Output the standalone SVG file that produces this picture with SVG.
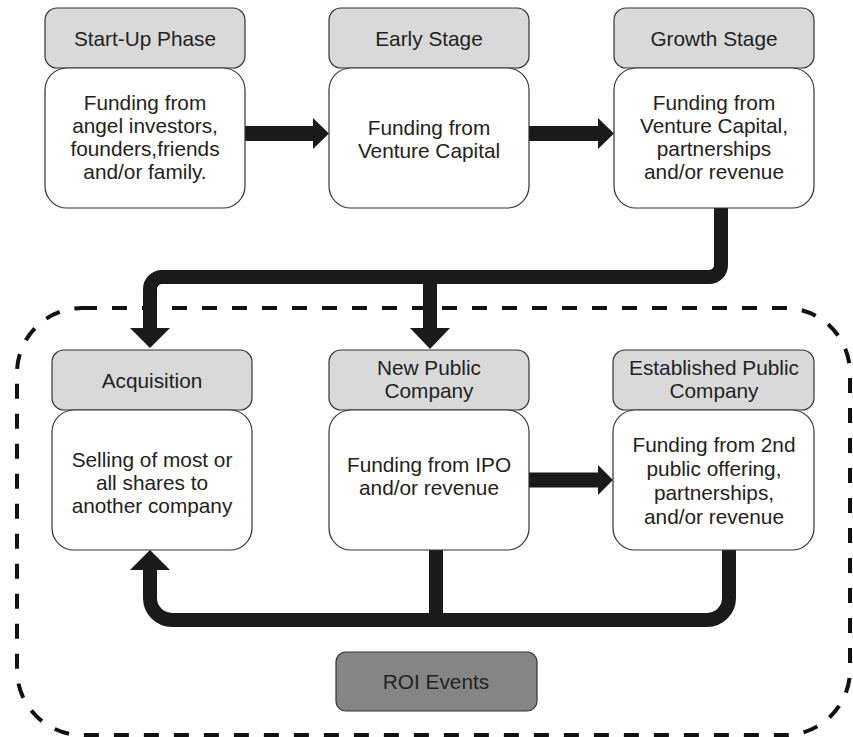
<svg xmlns="http://www.w3.org/2000/svg" width="853" height="737" viewBox="0 0 853 737">
<style>
text{font-family:"Liberation Sans",Arial,sans-serif;font-size:20.8px;fill:#222;text-anchor:middle}
.hd{fill:#d9d9d9;stroke:#333;stroke-width:1.2}
.bd{fill:#fff;stroke:#333;stroke-width:1.2}
.roi{fill:#858585;stroke:#333;stroke-width:1.2}
.ln{fill:none;stroke:#1a1a1a;stroke-width:14}
.hl{fill:none;stroke:#1a1a1a;stroke-width:15}
.ah{fill:#1a1a1a}
.dash{fill:none;stroke:#111;stroke-width:4;stroke-dasharray:15 15}
</style>
<rect class="dash" x="17" y="308" width="833" height="427" rx="65" ry="65"/>
<g id="connectors">
<path class="hl" d="M245 133.5H315"/><polygon class="ah" points="313,118 329,133.5 313,149"/>
<path class="hl" d="M529 133.5H600"/><polygon class="ah" points="598,118 614,133.5 598,149"/>
<path class="ln" d="M721 208V265a12 12 0 0 1 -12 12H162a12 12 0 0 0 -12 12V330"/>
<polygon class="ah" points="130,328 170,328 150,348"/>
<path class="ln" d="M430 277V330"/>
<polygon class="ah" points="410,328 450,328 430,349"/>
<path class="hl" d="M529 480H600"/><polygon class="ah" points="598,465 613,480 598,495"/>
<path class="ln" d="M729 550V598a22 22 0 0 1 -22 22H172a22 22 0 0 1 -22 -22V568"/>
<polygon class="ah" points="130,570 170,570 150,550"/>
<path class="ln" d="M436 550V620"/>
</g>
<g id="startup">
<rect class="hd" x="45" y="8" width="200" height="60" rx="12"/>
<text x="145" y="46">Start-Up Phase</text>
<rect class="bd" x="45" y="68" width="200" height="140" rx="22"/>
<text x="145" y="110">Funding from</text>
<text x="145" y="133">angel investors,</text>
<text x="145" y="156">founders,friends</text>
<text x="145" y="179">and/or family.</text>
</g>
<g id="early">
<rect class="hd" x="329" y="8" width="200" height="60" rx="12"/>
<text x="429" y="46">Early Stage</text>
<rect class="bd" x="329" y="68" width="200" height="140" rx="22"/>
<text x="429" y="135">Funding from</text>
<text x="429" y="158">Venture Capital</text>
</g>
<g id="growth">
<rect class="hd" x="614" y="8" width="200" height="60" rx="12"/>
<text x="714" y="46">Growth Stage</text>
<rect class="bd" x="614" y="68" width="200" height="140" rx="22"/>
<text x="714" y="110">Funding from</text>
<text x="714" y="133">Venture Capital,</text>
<text x="714" y="156">partnerships</text>
<text x="714" y="179">and/or revenue</text>
</g>
<g id="acquisition">
<rect class="hd" x="52" y="350" width="200" height="60" rx="12"/>
<text x="152" y="388">Acquisition</text>
<rect class="bd" x="52" y="410" width="200" height="140" rx="22"/>
<text x="152" y="467">Selling of most or</text>
<text x="152" y="490">all shares to</text>
<text x="152" y="513">another company</text>
</g>
<g id="newpublic">
<rect class="hd" x="329" y="350" width="200" height="60" rx="12"/>
<text x="429" y="375">New Public</text>
<text x="429" y="398">Company</text>
<rect class="bd" x="329" y="410" width="200" height="140" rx="22"/>
<text x="429" y="472">Funding from IPO</text>
<text x="429" y="495">and/or revenue</text>
</g>
<g id="established">
<rect class="hd" x="613" y="350" width="201" height="60" rx="12"/>
<text x="714" y="375">Established Public</text>
<text x="714" y="398">Company</text>
<rect class="bd" x="613" y="410" width="201" height="140" rx="22"/>
<text x="714" y="452">Funding from 2nd</text>
<text x="714" y="476">public offering,</text>
<text x="714" y="500">partnerships,</text>
<text x="714" y="524">and/or revenue</text>
</g>
<g id="roi">
<rect class="roi" x="336" y="652" width="201" height="59" rx="10"/>
<text x="436" y="689">ROI Events</text>
</g>
</svg>
